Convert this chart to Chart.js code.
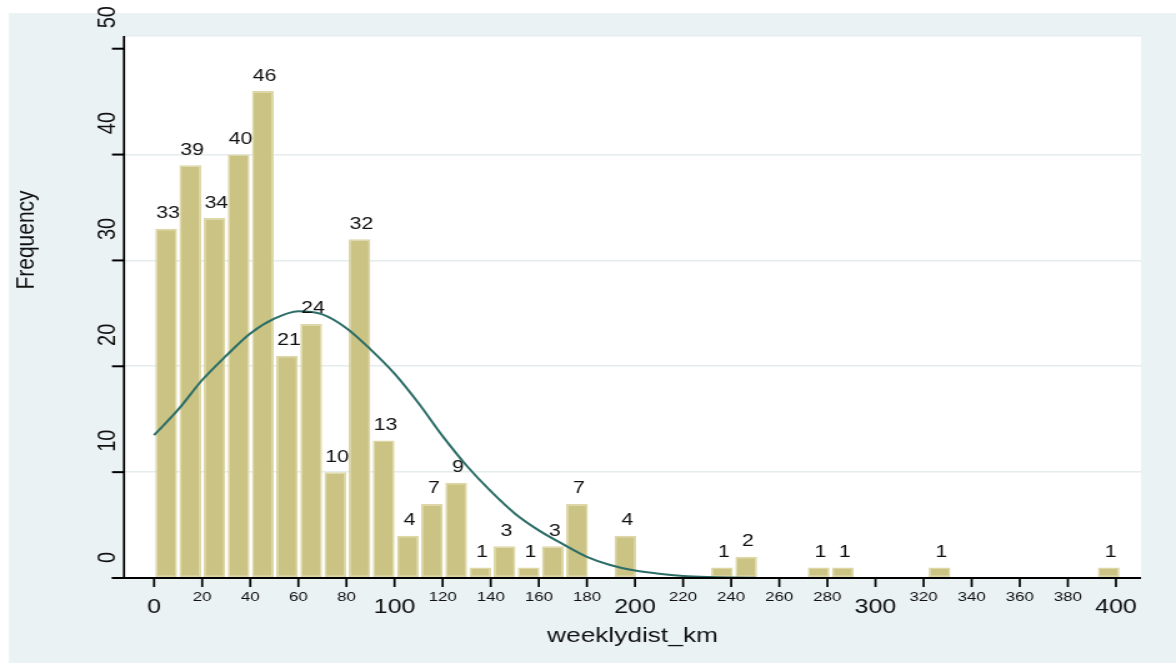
<!DOCTYPE html>
<html>
<head>
<meta charset="utf-8">
<title>weeklydist_km histogram</title>
<script src="https://cdn.jsdelivr.net/npm/chart.js@4.4.1/dist/chart.umd.min.js"></script>
<style>
  html, body { margin: 0; padding: 0; background: #fff; overflow: hidden; }
  /* the original picture is stretched sideways, so the whole canvas is too */
  #wrap { width: 941px; height: 663px; transform: scaleX(1.2497); transform-origin: 0 0; }
  canvas { display: block; }
</style>
</head>
<body>
<div id="wrap"><canvas id="histChart" width="941" height="663"></canvas></div>
<script>
// Histogram bins: 40 bins of width ~10.05 km starting at 0
const binWidth = 10.05;
const binCounts = [33, 39, 34, 40, 46, 21, 24, 10, 32, 13,
                   4, 7, 9, 1, 3, 1, 3, 7, 0, 4,
                   0, 0, 0, 1, 2, 0, 0, 1, 1, 0,
                   0, 0, 1, 0, 0, 0, 0, 0, 0, 1];

// Normal density overlay
const curveX = [0, 10, 20, 30, 40, 50, 60, 70, 80, 90, 100, 110, 120,
                130, 140, 150, 160, 170, 180, 190, 200, 210, 220, 230, 240, 250];
const curveY = [13.5, 15.9, 18.7, 21.0, 23.1, 24.5, 25.2, 24.9, 23.6, 21.6, 19.3, 16.5, 13.4,
                10.6, 8.2, 6.1, 4.5, 3.2, 2.0, 1.2, 0.7, 0.4, 0.2, 0.1, 0.05, 0.02];

// Axis labels
const bigTicks = [0, 100, 200, 300, 400];
const smallTicks = [20, 40, 60, 80, 120, 140, 160, 180, 220, 240, 260, 280, 320, 340, 360, 380];
const yTicks = [0, 10, 20, 30, 40, 50];

const SX = 1176 / 941;
const FONT = '"Liberation Sans", Arial, sans-serif';

const barData = binCounts.map((c, i) => ({ x: (i + 0.5) * binWidth, y: c }));
const curveData = curveX.map((x, i) => ({ x: x, y: curveY[i] }));

const stataFrame = {
    id: 'stataFrame',
    beforeDraw(chart) {
        const { ctx, chartArea: a } = chart;
        ctx.save();
        ctx.fillStyle = '#ffffff';
        ctx.fillRect(0, 0, chart.width, chart.height);
        ctx.fillStyle = '#eaf2f3';
        ctx.fillRect(9 / SX, 13, chart.width, chart.height);
        ctx.fillStyle = '#ffffff';
        ctx.fillRect(a.left, a.top, a.right - a.left, a.bottom - a.top);
        ctx.restore();
    },
    afterDatasetsDraw(chart) {
        // value labels above bars
        const { ctx } = chart;
        const meta = chart.getDatasetMeta(1);
        ctx.save();
        ctx.fillStyle = '#111';
        ctx.font = '17px ' + FONT;
        ctx.textAlign = 'center';
        ctx.textBaseline = 'alphabetic';
        meta.data.forEach((bar, i) => {
            if (binCounts[i] > 0) {
                ctx.fillText(String(binCounts[i]), bar.x + 1.5, bar.y - 10.5);
            }
        });
        ctx.restore();
    },
    afterDraw(chart) {
        const { ctx, chartArea: a, scales } = chart;
        const xs = scales.x, ys = scales.y;
        ctx.save();
        ctx.strokeStyle = '#000';
        ctx.fillStyle = '#111';

        // axis lines
        ctx.lineWidth = 1.7;
        ctx.beginPath();
        ctx.moveTo(a.left, a.top);
        ctx.lineTo(a.left, a.bottom);
        ctx.stroke();
        ctx.lineWidth = 2;
        ctx.beginPath();
        ctx.moveTo(a.left - 9.6, a.bottom);
        ctx.lineTo(a.right, a.bottom);
        ctx.stroke();

        // x ticks
        ctx.lineWidth = 1.7;
        bigTicks.concat(smallTicks).forEach(v => {
            const px = xs.getPixelForValue(v);
            ctx.beginPath();
            ctx.moveTo(px, a.bottom);
            ctx.lineTo(px, a.bottom + 9);
            ctx.stroke();
        });
        ctx.textAlign = 'center';
        ctx.textBaseline = 'alphabetic';
        ctx.font = '13.5px ' + FONT;
        smallTicks.forEach(v => ctx.fillText(String(v), xs.getPixelForValue(v), 601));
        ctx.font = '20px ' + FONT;
        bigTicks.forEach(v => ctx.fillText(String(v), xs.getPixelForValue(v), 613));

        // y ticks, labels turned on their side
        ctx.lineWidth = 2;
        yTicks.forEach(v => {
            const py = ys.getPixelForValue(v);
            ctx.beginPath();
            ctx.moveTo(a.left - 9.6, py);
            ctx.lineTo(a.left, py);
            ctx.stroke();
            const s = String(v);
            ctx.save();
            ctx.translate(107 / SX, py - (20.5 + 11 * (s.length - 1)));
            ctx.rotate(-Math.PI / 2);
            ctx.font = '20px ' + FONT;
            ctx.textAlign = 'center';
            ctx.textBaseline = 'middle';
            ctx.fillText(s, 0, 1);
            ctx.restore();
        });

        // axis titles
        ctx.font = '21px ' + FONT;
        ctx.textAlign = 'center';
        ctx.textBaseline = 'alphabetic';
        ctx.fillText('weeklydist_km', (a.left + a.right) / 2, 642);

        ctx.save();
        ctx.translate(34 / SX, 240);
        ctx.rotate(-Math.PI / 2);
        ctx.fillText('Frequency', 0, 0);
        ctx.restore();

        ctx.restore();
    }
};

const ctx = document.getElementById('histChart').getContext('2d');
const histChart = new Chart(ctx, {
    type: 'bar',
    data: {
        datasets: [{
            type: 'line',
            label: 'Normal',
            data: curveData,
            borderColor: '#2c6e67',
            borderWidth: 2,
            pointRadius: 0,
            fill: false,
            cubicInterpolationMode: 'monotone',
            order: 0
        }, {
            label: 'Frequency',
            data: barData,
            backgroundColor: '#cbc383',
            borderColor: '#ddd7a6',
            borderWidth: c => (c.raw && c.raw.y > 0 ? 1.5 : 0),
            borderSkipped: false,
            barPercentage: 0.9,
            categoryPercentage: 1,
            order: 1
        }]
    },
    options: {
        responsive: false,
        animation: false,
        devicePixelRatio: 1,
        layout: { padding: { top: 36, right: 941 - 1141 / SX, left: 0, bottom: 0 } },
        plugins: {
            legend: { display: false },
            tooltip: { enabled: false }
        },
        scales: {
            x: {
                type: 'linear',
                offset: false,
                min: -12.5,
                max: 410.4,
                grid: { display: false },
                border: { display: false },
                ticks: { display: false },
                afterFit: s => { s.height = 85; }
            },
            y: {
                min: 0,
                max: 51.2,
                ticks: { display: false, stepSize: 10 },
                border: { display: false },
                grid: { color: '#e4ecee', lineWidth: 1.6, drawTicks: false },
                afterFit: s => { s.width = 124 / SX; }
            }
        }
    },
    plugins: [stataFrame]
});
</script>
</body>
</html>
